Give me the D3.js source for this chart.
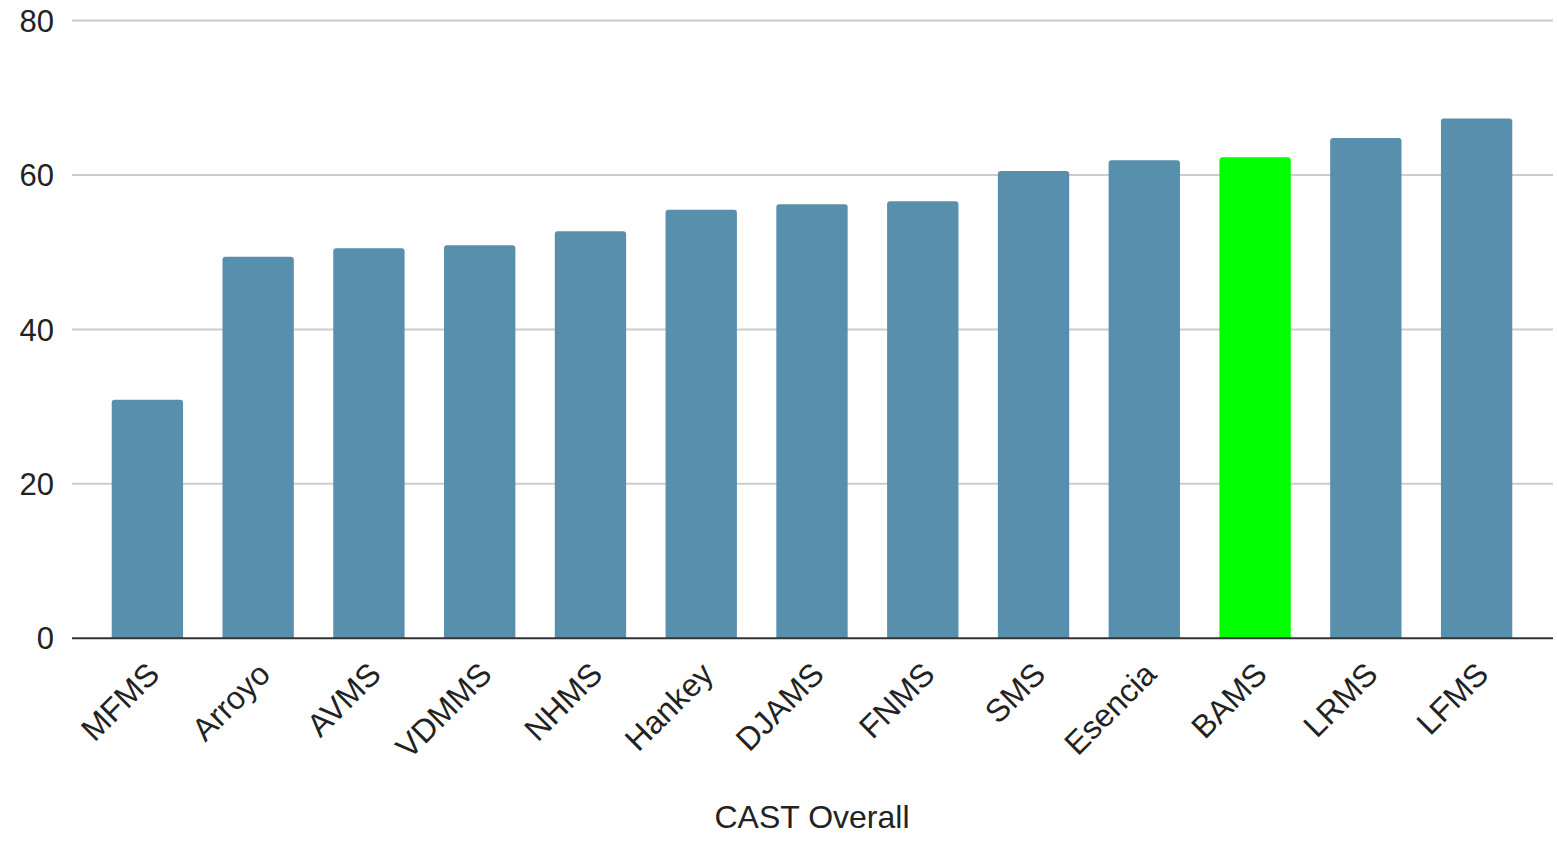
<!DOCTYPE html>
<html>
<head>
<meta charset="utf-8">
<script src="https://cdn.jsdelivr.net/npm/d3@7"></script>
<style>
  html, body { margin: 0; padding: 0; background: #fff; }
  svg { display: block; }
  text { font-family: "Liberation Sans", Arial, sans-serif; }
</style>
</head>
<body>
<svg id="chart" width="1557" height="843"></svg>
<script>
const categories = ["MFMS","Arroyo","AVMS","VDMMS","NHMS","Hankey","DJAMS","FNMS","SMS","Esencia","BAMS","LRMS","LFMS"];
const values = [30.9, 49.4, 50.5, 50.9, 52.7, 55.5, 56.2, 56.6, 60.5, 61.9, 62.3, 64.8, 67.3];
const highlight = ["BAMS"];
const yTicks = [0, 20, 40, 60, 80];
const xTitle = "CAST Overall";

const svg = d3.select("#chart");
const plotLeft = 72, plotRight = 1553, plotTop = 20.5, plotBottom = 638.3;

const x = d3.scaleBand().domain(categories).range([92, 1532]).paddingInner(0.356).paddingOuter(0.178);
const y = d3.scaleLinear().domain([0, 80]).range([plotBottom, plotTop]);

// gridlines
svg.append("g").selectAll("line").data(yTicks.filter(t => t !== 0)).join("line")
  .attr("x1", plotLeft).attr("x2", plotRight)
  .attr("y1", d => y(d)).attr("y2", d => y(d))
  .attr("stroke", "#cccccc").attr("stroke-width", 2);

// y labels
svg.append("g").selectAll("text").data(yTicks).join("text")
  .attr("x", 54).attr("y", d => y(d))
  .attr("dy", "0.36em")
  .attr("text-anchor", "end")
  .attr("font-size", 31)
  .attr("fill", "#222")
  .text(d => d);

// bars with rounded top corners
const r = 3;
function barPath(d, i) {
  const x0 = x(categories[i]), w = x.bandwidth();
  const yt = y(d), yb = y(0);
  return `M${x0},${yb}V${yt + r}Q${x0},${yt} ${x0 + r},${yt}H${x0 + w - r}Q${x0 + w},${yt} ${x0 + w},${yt + r}V${yb}Z`;
}
svg.append("g").selectAll("path").data(values).join("path")
  .attr("d", barPath)
  .attr("fill", (d, i) => highlight.includes(categories[i]) ? "#00ff00" : "#588fad");

// baseline
svg.append("line")
  .attr("x1", plotLeft).attr("x2", plotRight)
  .attr("y1", y(0)).attr("y2", y(0))
  .attr("stroke", "#333").attr("stroke-width", 2);

// x labels
svg.append("g").selectAll("text").data(categories).join("text")
  .attr("transform", d => `translate(${x(d) + x.bandwidth() / 2 - 2},${y(0) + 22}) rotate(-45)`)
  .attr("text-anchor", "end")
  .attr("dy", "0.7em")
  .attr("font-size", 32)
  .attr("fill", "#222")
  .text(d => d);

// x title
svg.append("text")
  .attr("x", 812).attr("y", 828)
  .attr("text-anchor", "middle")
  .attr("font-size", 32)
  .attr("fill", "#222")
  .text(xTitle);
</script>
</body>
</html>
